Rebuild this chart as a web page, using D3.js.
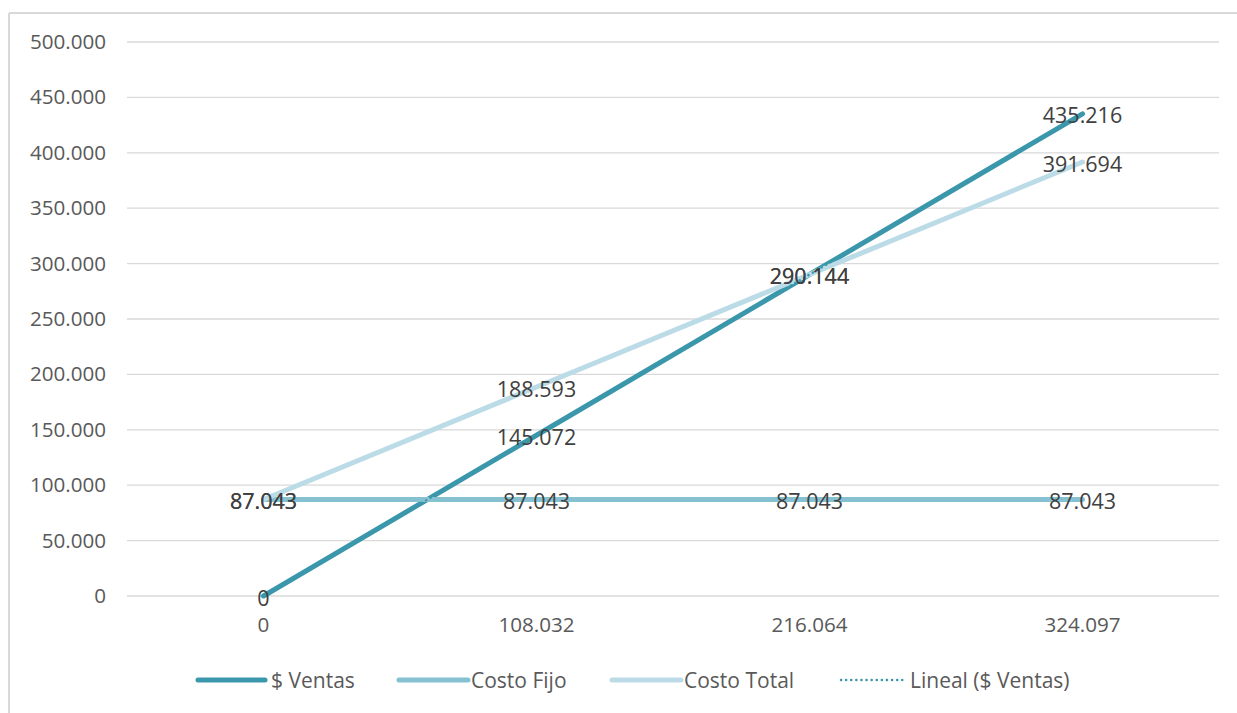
<!DOCTYPE html>
<html>
<head>
<meta charset="utf-8">
<script src="https://cdn.jsdelivr.net/npm/d3@7"></script>
<style>
  html, body { margin: 0; padding: 0; background: #fff; }
  svg { display: block; font-family: "Open Sans", "Noto Sans", sans-serif; }
</style>
</head>
<body>
<svg id="chart" width="1237" height="713"></svg>
<script>
// Break-even chart: units sold (categories) vs. sales, fixed cost and total cost
const categories = ["0", "108.032", "216.064", "324.097"];
const ventas     = [0, 145072, 290144, 435216];
const costoFijo  = [87043, 87043, 87043, 87043];
const costoTotal = [87043, 188593, 290144, 391694];
const yTicks     = [0, 50000, 100000, 150000, 200000, 250000, 300000, 350000, 400000, 450000, 500000];
const seriesNames = ["$ Ventas", "Costo Fijo", "Costo Total", "Lineal ($ Ventas)"];

const colors = { ventas: "#3b97ab", fijo: "#86c1d1", total: "#bbdbe6" };

const esLocale = d3.formatLocale({ decimal: ",", thousands: ".", grouping: [3], currency: ["$", ""] });
const fmt = esLocale.format(",.0f");

const svg = d3.select("#chart");
const W = 1237, H = 713;

// chart frame (top and left edges visible)
svg.append("line").attr("x1", 9).attr("x2", W).attr("y1", 13).attr("y2", 13)
  .attr("stroke", "#d9d9d9").attr("stroke-width", 2);
svg.append("line").attr("x1", 9).attr("x2", 9).attr("y1", 13).attr("y2", H)
  .attr("stroke", "#d9d9d9").attr("stroke-width", 2);

const plot = { left: 127, right: 1219, top: 42, bottom: 596 };

const x = d3.scaleBand().domain(categories).range([plot.left, plot.right]);
const y = d3.scaleLinear().domain([0, 500000]).range([plot.bottom, plot.top]);
const cx = c => x(c) + x.bandwidth() / 2;

// gridlines
svg.append("g").selectAll("line").data(yTicks).join("line")
  .attr("x1", plot.left).attr("x2", plot.right)
  .attr("y1", d => y(d)).attr("y2", d => y(d))
  .attr("stroke", "#d9d9d9").attr("stroke-width", 1.3);

// y axis labels
const yAxis = d3.axisLeft(y).tickValues(yTicks).tickFormat(fmt).tickSize(0).tickPadding(0);
const gy = svg.append("g").attr("transform", `translate(106,0)`).call(yAxis);
gy.select(".domain").remove();
gy.selectAll("text").attr("fill", "#595959").attr("font-size", 20.6)
  .attr("font-family", "'Open Sans', 'Noto Sans', sans-serif");

// x axis labels
const xAxis = d3.axisBottom(x).tickSize(0).tickPadding(0);
const gx = svg.append("g").attr("transform", `translate(0,${plot.bottom + 21})`).call(xAxis);
gx.select(".domain").remove();
gx.selectAll("text").attr("fill", "#595959").attr("font-size", 20.6)
  .attr("font-family", "'Open Sans', 'Noto Sans', sans-serif");

const line = d3.line().x((d, i) => cx(categories[i])).y(d => y(d));

const series = [
  { key: "ventas", values: ventas, color: colors.ventas },
  { key: "fijo", values: costoFijo, color: colors.fijo },
  { key: "total", values: costoTotal, color: colors.total }
];

const lines = svg.append("g");
series.forEach(s => {
  lines.append("path").datum(s.values)
    .attr("d", line).attr("fill", "none")
    .attr("stroke", s.color).attr("stroke-width", 5)
    .attr("stroke-linecap", "round").attr("stroke-linejoin", "round");
});

// linear trendline for sales (least squares over category index)
const n = ventas.length;
const xs = d3.range(n);
const mx = d3.mean(xs), my = d3.mean(ventas);
const slope = d3.sum(xs, i => (i - mx) * (ventas[i] - my)) / d3.sum(xs, i => (i - mx) ** 2);
const intercept = my - slope * mx;
const trend = xs.map(i => intercept + slope * i);
lines.append("path").datum(trend)
  .attr("d", line).attr("fill", "none")
  .attr("stroke", colors.ventas).attr("stroke-width", 2.5)
  .attr("stroke-dasharray", "0.1 5").attr("stroke-linecap", "round");

// data labels centred on each point
const labels = svg.append("g").attr("font-size", 21.5).attr("fill", "#404040")
  .attr("text-anchor", "middle").attr("dominant-baseline", "central");
series.forEach(s => {
  labels.selectAll(null).data(s.values).join("text")
    .attr("x", (d, i) => cx(categories[i]))
    .attr("y", d => y(d) + 1)
    .text(d => fmt(d));
});

// legend
const legendY = 680;
const legendItems = [
  { name: seriesNames[0], color: colors.ventas, x0: 198, x1: 265, tx: 271, dotted: false },
  { name: seriesNames[1], color: colors.fijo, x0: 399, x1: 468, tx: 471, dotted: false },
  { name: seriesNames[2], color: colors.total, x0: 612, x1: 681, tx: 684, dotted: false },
  { name: seriesNames[3], color: colors.ventas, x0: 841, x1: 905, tx: 910, dotted: true }
];
const lg = svg.append("g");
legendItems.forEach(it => {
  const l = lg.append("line").attr("x1", it.x0).attr("x2", it.x1)
    .attr("y1", legendY).attr("y2", legendY).attr("stroke", it.color)
    .attr("stroke-linecap", "round");
  if (it.dotted) l.attr("stroke-width", 2.5).attr("stroke-dasharray", "0.1 5");
  else l.attr("stroke-width", 5);
  lg.append("text").attr("x", it.tx).attr("y", legendY).attr("dominant-baseline", "central")
    .attr("font-size", 21).attr("fill", "#595959").text(it.name);
});
</script>
</body>
</html>
